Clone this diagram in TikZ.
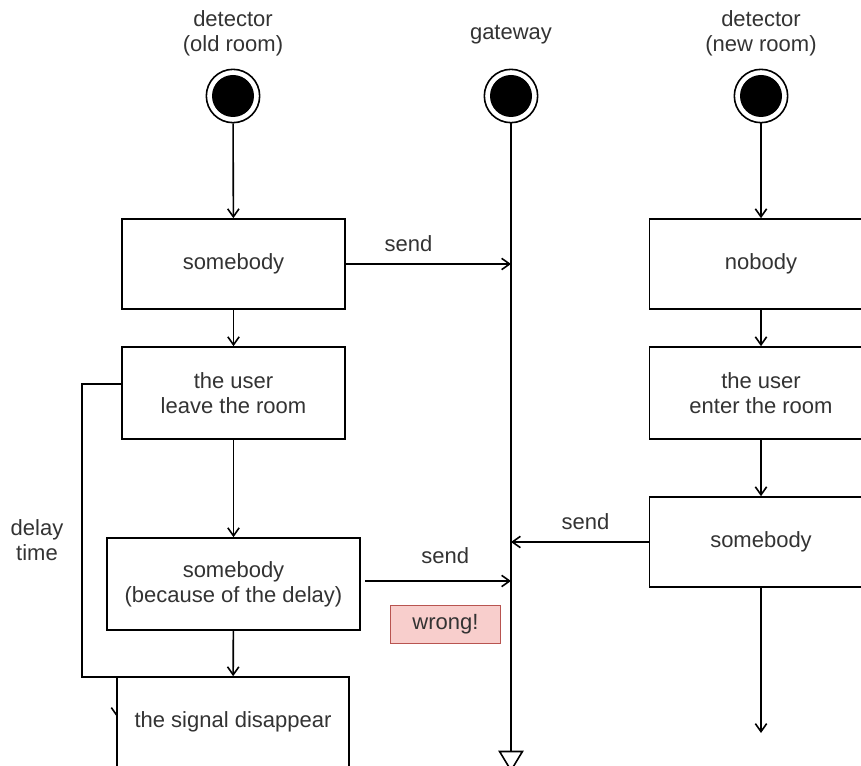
\documentclass[tikz,border=0pt]{standalone}
\usepackage{fontspec}
\setmainfont{Liberation Sans}
\usetikzlibrary{arrows.meta}
\definecolor{ink}{HTML}{333333}
\definecolor{wrongfill}{HTML}{F8CECC}
\definecolor{wrongline}{HTML}{B85450}
\tikzset{
 box/.style={draw,fill=white,minimum width=#1,minimum height=67.5pt,align=center,text=ink},
 box/.default=167pt,
 startdot/.style={circle,draw,fill=white,minimum size=40pt,inner sep=0pt,
  path picture={\fill[black] (path picture bounding box.center) circle(21);}},
 lbl/.style={text=ink,align=center},
}
\begin{document}
\begin{tikzpicture}[x=0.75pt,y=-0.75pt,line width=1.2pt,
 >={Straight Barb[length=6pt,width=8.5pt]},
 font=\fontsize{16.5}{18.8}\selectfont]
\clip (0,0) rectangle (861,766);
% lifelines
\node[lbl] at (233,33) {detector\\(old room)};
\node[lbl] at (511,35) {gateway};
\node[lbl] at (761,33) {detector\\(new room)};
\node[startdot] (old) at (233,96) {};
\node[startdot] (gw) at (511,96) {};
\node[startdot] (new) at (761,96) {};
\coordinate (gwend) at (511,772);
\draw[-{Triangle[open,length=16pt,width=19pt]}] (gw) -- (gwend);
% old room
\node[box] (s1) at (233.5,264) {somebody};
\node[box,minimum height=69pt] (leave) at (233.5,393) {the user\\leave the room};
\node[box=190pt,minimum height=69pt] (sdelay) at (233.5,584) {somebody\\(because of the delay)};
\draw[->] (old) -- (s1);
\draw[->] (s1) -- (leave);
\draw[->] (leave) -- (sdelay);
\coordinate (dl1) at (82,384);
\coordinate (dl2) at (82,677);
\coordinate (dl3) at (117,677);
\coordinate (dl4) at (117,717);
\draw[->] (leave.west |- dl1) -- (dl1) -- (dl2) -- (dl3) -- (dl4);
\node[lbl] at (37,540) {delay\\time};
\node[box=174pt] (gone) at (233,722) {the signal disappear};
\draw[->] (sdelay) -- (gone);
% new room
\node[box] (nobody) at (761,264) {nobody};
\node[box,minimum height=69pt] (enter) at (761,393) {the user\\enter the room};
\node[box] (s2) at (761,542) {somebody};
\coordinate (newend) at (761,733);
\draw[->] (new) -- (nobody);
\draw[->] (nobody) -- (enter);
\draw[->] (enter) -- (s2);
\draw[->] (s2) -- (newend);
% messages
\draw[->] (s1.east) -- (s1.east -| gw) node[lbl,pos=.38,above=5pt] {send};
\draw[->] (s2.west) -- (s2.west -| gw) node[lbl,pos=.46,above=5pt] {send};
\coordinate (late) at (365,581);
\draw[->] (late) -- (late -| gw) node[lbl,pos=.55,above=9pt] {send};
\node[draw=wrongline,fill=wrongfill,text=ink,minimum width=83pt,minimum height=28pt,line width=0.9pt] (wrong) at (445.5,624.5) {wrong!};
\end{tikzpicture}
\end{document}
